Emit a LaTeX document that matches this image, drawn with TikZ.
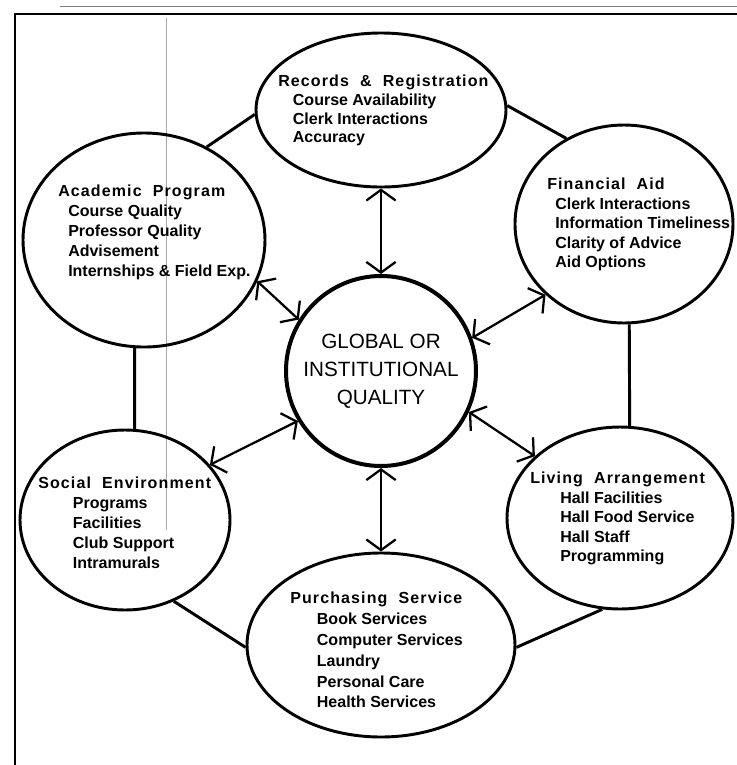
\documentclass[tikz,border=0pt]{standalone}
\usepackage{fontspec}
\setmainfont{Liberation Sans}
\newfontfamily\blkttlfont[LetterSpace=7]{Liberation Sans}
\newcommand\blkttl[1]{{\blkttlfont\bfseries #1}}
\usetikzlibrary{arrows.meta,shapes.geometric}
\begin{document}
\begin{tikzpicture}[x=0.75pt,y=-0.75pt,
  oval/.style={ellipse, draw, line width=2.2pt, inner sep=0pt},
  ring/.style={line width=2.2pt},
  link/.style={line width=1.7pt, {Straight Barb[length=8pt,width=22pt]}-{Straight Barb[length=8pt,width=22pt]}},
  blk/.style={anchor=north west, inner sep=0pt, align=left},
]
\path[use as bounding box] (0,0) rectangle (737,765);
% frame
\coordinate (ftl) at (15,14);
\coordinate (ftr) at (737,14);
\coordinate (fbl) at (15,765);
\draw[line width=2.2pt] (ftr) -- (ftl) -- (fbl);
\coordinate (ga) at (60,6);
\coordinate (gb) at (737,6);
\draw[line width=0.6pt, gray] (ga) -- (gb);
\coordinate (va) at (166,18);
\coordinate (vb) at (166,530);
\draw[line width=0.4pt, black!35] (va) -- (vb);

% ellipses
\node[oval, minimum width=187.5pt, minimum height=115.5pt] (rec) at (381,110) {};
\node[oval, minimum width=181.5pt, minimum height=160.5pt] (acad) at (144,240) {};
\node[oval, minimum width=163.5pt, minimum height=148.5pt] (fin) at (624,224) {};
\node[oval, minimum width=157.5pt, minimum height=135pt] (soc) at (125,520) {};
\node[oval, minimum width=169.5pt, minimum height=136.5pt] (liv) at (620,518) {};
\node[oval, minimum width=201pt, minimum height=138pt] (pur) at (381,645) {};
\node[circle, draw, line width=3pt, minimum size=142.5pt, inner sep=0pt, align=center,
      font=\fontsize{15.5}{21}\selectfont] (ctr) at (381,371) {GLOBAL OR\\INSTITUTIONAL\\QUALITY};

% ring connectors
\draw[ring] (rec.182) -- (acad.56);
\draw[ring] (rec.2) -- (fin.124);
\draw[ring] (acad.265) -- (soc.84);
\draw[ring] (fin.273) -- (liv.84);
\draw[ring] (soc.301) -- (pur.181);
\draw[ring] (liv.259) -- (pur.359);

% arrows to center
\draw[link] (rec.270) -- (ctr.90);
\draw[link] (acad.-20) -- (ctr.148);
\draw[link] (fin.222) -- (ctr.20);
\draw[link] (soc.33) -- (ctr.211);
\draw[link] (liv.144) -- (ctr.-25);
\draw[link] (ctr.270) -- (pur.90);

% texts
\node[blk, font=\fontsize{12}{14}\selectfont\bfseries] (recT) at (278,75)
  {\blkttl{Records \ \& \ Registration}\\\hspace*{11pt}Course Availability\\\hspace*{11pt}Clerk Interactions\\\hspace*{11pt}Accuracy};
\node[blk, font=\fontsize{12}{15}\selectfont\bfseries] (acadT) at (58,185)
  {\blkttl{Academic \ Program}\\\hspace*{7.5pt}Course Quality\\\hspace*{7.5pt}Professor Quality\\\hspace*{7.5pt}Advisement\\\hspace*{7.5pt}Internships \& Field Exp.};
\node[blk, font=\fontsize{12}{14.6}\selectfont\bfseries] (finT) at (547,178)
  {\blkttl{Financial \ Aid}\\\hspace*{6pt}Clerk Interactions\\\hspace*{6pt}Information Timeliness\\\hspace*{6pt}Clarity of Advice\\\hspace*{6pt}Aid Options};
\node[blk, font=\fontsize{12}{15}\selectfont\bfseries] (socT) at (38,477)
  {\blkttl{Social \ Environment}\\\hspace*{26pt}Programs\\\hspace*{26pt}Facilities\\\hspace*{26pt}Club Support\\\hspace*{26pt}Intramurals};
\node[blk, font=\fontsize{12}{14.6}\selectfont\bfseries] (livT) at (530,472)
  {\blkttl{Living \ Arrangement}\\\hspace*{22.5pt}Hall Facilities\\\hspace*{22.5pt}Hall Food Service\\\hspace*{22.5pt}Hall Staff\\\hspace*{22.5pt}Programming};
\node[blk, font=\fontsize{12}{15.6}\selectfont\bfseries] (purT) at (290,592)
  {\blkttl{Purchasing \ Service}\\\hspace*{20pt}Book Services\\\hspace*{20pt}Computer Services\\\hspace*{20pt}Laundry\\\hspace*{20pt}Personal Care\\\hspace*{20pt}Health Services};
\end{tikzpicture}
\end{document}
